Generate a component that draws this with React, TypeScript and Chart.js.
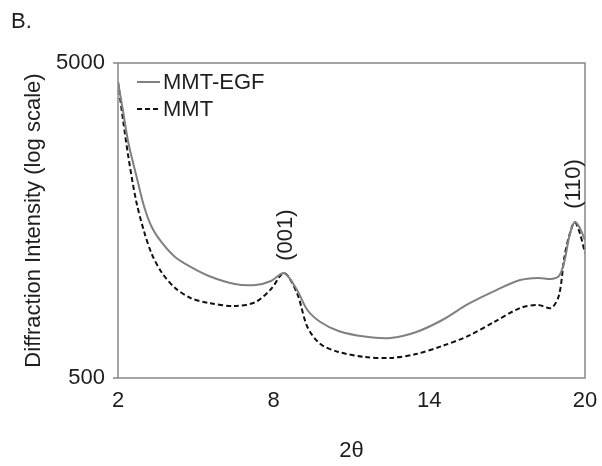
import React, { useEffect, useRef } from "react";
import { Chart, registerables } from "chart.js";

Chart.register(...registerables);

const xValues = [2, 2.2, 2.4, 2.7, 3, 3.3, 3.7, 4.2, 4.8, 5.5, 6.5, 7.3, 7.9, 8.4, 8.9, 9.3, 9.8, 10.5, 11.5, 12.5, 13.5, 14.5, 15.5, 16.5, 17.5, 18.2, 18.7, 19.0, 19.2, 19.4, 19.6, 19.8, 20];
const mmtEgf = [4352, 3494, 2786, 2206, 1758, 1508, 1342, 1211, 1126, 1054, 994, 987, 1016, 1077, 951, 822, 753, 705, 677, 670, 700, 764, 859, 944, 1023, 1039, 1031, 1054, 1167, 1412, 1564, 1497, 1371];
const mmt = [4352, 3272, 2515, 1823, 1464, 1238, 1077, 966, 897, 865, 846, 871, 958, 1077, 930, 726, 641, 605, 583, 579, 596, 632, 680, 753, 834, 853, 834, 917, 1202, 1422, 1564, 1443, 1247];
const seriesNames = ["MMT-EGF", "MMT"];
const xTicks = [2, 8, 14, 20];
const yTicks = [500, 5000];
const peakLabels = ["(001)", "(110)"];
const peakX = [8.4, 19.5];
const peakY = [1077, 1564];
const panelLabel = "B.";
const xTitle = "2θ";
const yTitle = "Diffraction Intensity (log scale)";

const FONT = "'Liberation Sans', Arial, Helvetica, sans-serif";
const FS = 22;
const TEXT = "#1e1e1e";
const SOLID = "#808080";
const DASH = "#111111";
const AXIS = "#888888";

export default function App() {
  const ref = useRef<HTMLCanvasElement>(null);

  useEffect(() => {
    document.body.style.margin = "0";
    const canvas = ref.current!;
    const toPts = (arr: number[]) => arr.map((y, i) => ({ x: xValues[i], y }));

    const decor = {
      id: "decor",
      afterDraw(chart: any) {
        const { ctx, chartArea: ca, scales } = chart;
        const xs = scales.x;
        const ys = scales.y;
        ctx.save();
        ctx.strokeStyle = AXIS;
        ctx.lineWidth = 1.5;
        ctx.strokeRect(ca.left, ca.top, ca.right - ca.left, ca.bottom - ca.top);
        ctx.beginPath();
        yTicks.forEach((v) => {
          const py = ys.getPixelForValue(v);
          ctx.moveTo(ca.left - 5, py);
          ctx.lineTo(ca.left, py);
        });
        ctx.stroke();
        ctx.font = `${FS}px ${FONT}`;
        ctx.fillStyle = TEXT;
        ctx.textBaseline = "middle";
        ctx.textAlign = "left";
        const rows = [
          { color: SOLID, dash: [] as number[], y: ca.top + 19 },
          { color: DASH, dash: [5, 3], y: ca.top + 46 },
        ];
        rows.forEach((r, i) => {
          ctx.beginPath();
          ctx.strokeStyle = r.color;
          ctx.lineWidth = 2;
          ctx.setLineDash(r.dash);
          ctx.moveTo(ca.left + 19, r.y);
          ctx.lineTo(ca.left + 42, r.y);
          ctx.stroke();
          ctx.setLineDash([]);
          ctx.fillText(seriesNames[i], ca.left + 45, r.y + 1);
        });
        peakLabels.forEach((t, i) => {
          const px = xs.getPixelForValue(peakX[i]);
          const py = ys.getPixelForValue(peakY[i]) - 38;
          ctx.save();
          ctx.translate(px + 2, py);
          ctx.rotate(-Math.PI / 2);
          ctx.textAlign = "center";
          ctx.textBaseline = "middle";
          ctx.fillText(t, 0, 0);
          ctx.restore();
        });
        ctx.textAlign = "left";
        ctx.fillText(panelLabel, 11, 22);
        ctx.restore();
      },
    };

    const chart = new Chart(canvas, {
      type: "line",
      data: {
        datasets: [
          {
            label: seriesNames[0],
            data: toPts(mmtEgf),
            borderColor: SOLID,
            borderWidth: 2,
            pointRadius: 0,
            tension: 0.3,
            fill: false,
          },
          {
            label: seriesNames[1],
            data: toPts(mmt),
            borderColor: DASH,
            borderWidth: 2,
            borderDash: [5, 3],
            pointRadius: 0,
            tension: 0.3,
            fill: false,
          },
        ],
      },
      options: {
        responsive: false,
        animation: false,
        devicePixelRatio: 1,
        layout: { padding: { left: 0, top: 63, right: 17, bottom: 0 } },
        plugins: { legend: { display: false }, tooltip: { enabled: false } },
        scales: {
          x: {
            type: "linear",
            min: 2,
            max: 20,
            grid: { display: false, drawTicks: false },
            border: { display: false },
            afterBuildTicks: (s: any) => {
              s.ticks = xTicks.map((v) => ({ value: v }));
            },
            afterFit: (s: any) => {
              s.height = 466 - 378;
              s.paddingLeft = 0;
              s.paddingRight = 0;
            },
            ticks: {
              padding: 10,
              color: TEXT,
              font: { size: FS, family: FONT },
              maxRotation: 0,
              callback: (v: any) => String(v),
            },
            title: {
              display: true,
              text: xTitle,
              color: TEXT,
              font: { size: FS, family: FONT },
              padding: { top: 0, bottom: 2 },
            },
          },
          y: {
            type: "logarithmic",
            min: 500,
            max: 5000,
            grid: { display: false, drawTicks: false },
            border: { display: false },
            afterBuildTicks: (s: any) => {
              s.ticks = yTicks.map((v) => ({ value: v }));
            },
            afterFit: (s: any) => {
              s.width = 118;
              s.paddingTop = 0;
              s.paddingBottom = 0;
            },
            ticks: {
              padding: 13,
              color: TEXT,
              font: { size: FS, family: FONT },
              callback: (v: any) => String(v),
            },
            title: {
              display: true,
              text: yTitle,
              color: TEXT,
              font: { size: FS, family: FONT },
              padding: { top: 21, bottom: 0 },
            },
          },
        },
      },
      plugins: [decor],
    } as any);

    return () => chart.destroy();
  }, []);

  return <canvas ref={ref} width={602} height={466} style={{ display: "block", width: 602, height: 466 }} />;
}
